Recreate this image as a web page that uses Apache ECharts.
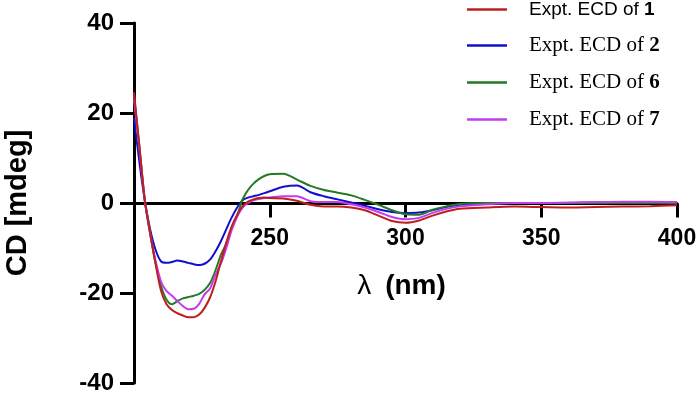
<!DOCTYPE html>
<html>
<head>
<meta charset="utf-8">
<script src="https://cdn.jsdelivr.net/npm/echarts@6/dist/echarts.min.js"></script>
<style>
  html, body { margin: 0; padding: 0; background: #fff; }
  #cdchart { width: 700px; height: 396px; }
</style>
</head>
<body>
<div id="cdchart"></div>
<script>
// wavelengths (nm)
var wavelength = [200, 202, 204, 206, 208, 210, 212, 214, 216, 218, 220, 222, 224, 226, 228, 230,
  232, 234, 236, 238, 240, 242, 244, 246, 248, 250, 255, 260, 265, 270, 275, 280, 285, 290, 295,
  300, 305, 310, 315, 320, 330, 340, 350, 360, 370, 380, 390, 400];

// CD values (mdeg)
var cd_1 = [24.6, 12.5, 0.5, -6.8, -13.7, -19.6, -22.5, -23.8, -24.5, -25.0, -25.4, -25.4, -24.8, -23.3, -21.0, -17.5,
  -13.0, -8.8, -5.2, -2.6, -0.7, 0.3, 0.8, 1.1, 1.2, 1.1, 1.0, 0.5, -0.4, -0.75, -0.75, -1.0, -1.6, -2.8, -4.0,
  -4.4, -3.9, -2.8, -1.9, -1.3, -1.0, -0.8, -0.9, -1.0, -0.9, -0.8, -0.7, -0.5];
var cd_2 = [18.9, 9.0, 0.5, -6.0, -10.5, -13.0, -13.3, -13.1, -12.8, -13.0, -13.3, -13.6, -13.8, -13.5, -12.6, -10.8,
  -8.5, -5.8, -3.2, -1.0, 0.6, 1.2, 1.5, 1.8, 2.2, 2.6, 3.6, 3.9, 2.4, 1.5, 0.8, 0.1, -0.6, -1.4, -2.0,
  -2.2, -2.1, -1.6, -0.9, -0.4, -0.2, 0, 0, 0, 0.1, 0.1, 0.1, 0.1];
var cd_6 = [24.0, 12.5, 0.5, -7.0, -13.5, -18.5, -21.5, -22.5, -21.8, -21.2, -20.9, -20.6, -20.2, -19.3, -17.8, -15.0,
  -11.5, -9.0, -5.5, -2.8, 0.8, 2.9, 4.3, 5.3, 6.0, 6.4, 6.5, 5.2, 3.8, 2.9, 2.3, 1.7, 0.7, -0.4, -1.6,
  -2.5, -2.6, -1.5, -0.75, -0.2, 0, 0, 0, 0, 0, 0, 0, 0];
var cd_7 = [23.0, 12.0, 0.5, -7.0, -13.0, -17.5, -19.6, -20.6, -21.8, -22.9, -23.6, -23.5, -22.4, -20.3, -19.0, -16.0,
  -13.5, -10.0, -6.0, -3.0, -1.0, 0, 0.6, 0.9, 1.1, 1.2, 1.5, 1.5, 0.4, 0.2, 0.2, -0.3, -1.0, -2.0, -3.1,
  -3.6, -3.3, -2.2, -1.3, -0.75, -0.3, 0, 0, 0.1, 0.2, 0.3, 0.3, 0.2];

var names = ['Expt. ECD of 1', 'Expt. ECD of 2', 'Expt. ECD of 6', 'Expt. ECD of 7'];
var colors = ['#bf1e1e', '#1010cc', '#237a23', '#c23cf0'];
var yTicks = [-40, -20, 0, 20, 40];

function pairs(ys) {
  return wavelength.map(function (x, i) { return [x, ys[i]]; });
}

function lineSeries(idx, ys) {
  return {
    name: names[idx],
    type: 'line',
    data: pairs(ys),
    smooth: 0.3,
    showSymbol: false,
    symbol: 'none',
    color: colors[idx],
    lineStyle: { width: 2, color: colors[idx] }
  };
}

var myChart = echarts.init(document.getElementById('cdchart'));

// grid 0 holds the data, grid 1 is the upper half only so its bottom axis sits on y = 0
var option = {
  animation: false,
  backgroundColor: '#ffffff',
  grid: [
    { left: 134, right: 23, top: 23, bottom: 13, containLabel: false, outerBoundsMode: 'none' },
    { left: 134, right: 23, top: 23, bottom: 192.5, containLabel: false, outerBoundsMode: 'none' }
  ],
  legend: {
    orient: 'vertical',
    left: 467,
    top: 0,
    padding: 0,
    icon: 'rect',
    itemWidth: 40,
    itemHeight: 2.5,
    itemGap: 16,
    data: names,
    formatter: function (name) {
      var n = name.slice(-1);
      if (n === '1') return '{s|Expt. ECD of }{sb|1}';
      return '{t|Expt. ECD of }{tb|' + n + '}';
    },
    textStyle: {
      rich: {
        s: { fontFamily: 'Liberation Sans, Arial', fontSize: 19, color: '#000', padding: [0, 0, 0, 17] },
        sb: { fontFamily: 'Liberation Sans, Arial', fontSize: 19, fontWeight: 'bold', color: '#000' },
        t: { fontFamily: 'Liberation Serif, Times New Roman', fontSize: 21, color: '#000', padding: [0, 0, 0, 17] },
        tb: { fontFamily: 'Liberation Serif, Times New Roman', fontSize: 21, fontWeight: 'bold', color: '#000' }
      }
    }
  },
  xAxis: [
    {
      gridIndex: 0,
      type: 'value',
      min: 200,
      max: 400,
      show: false
    },
    {
      gridIndex: 1,
      type: 'value',
      min: 200,
      max: 400,
      interval: 50,
      position: 'bottom',
      name: '{l|λ}{b|(nm)}',
      nameLocation: 'middle',
      nameGap: 69,
      nameTextStyle: {
        rich: {
          l: { fontFamily: 'Liberation Sans, Arial', fontSize: 28, color: '#000', padding: [0, 14, 0, 0] },
          b: { fontFamily: 'Liberation Sans, Arial', fontSize: 28, fontWeight: 'bold', color: '#000', padding: [0, 8, 0, 0] }
        }
      },
      axisLine: { onZero: false, lineStyle: { color: '#000', width: 3 } },
      axisTick: { length: 14, lineStyle: { color: '#000', width: 3 } },
      axisLabel: {
        showMinLabel: false,
        margin: 24,
        color: '#000',
        fontFamily: 'Liberation Sans, Arial',
        fontWeight: 'bold',
        fontSize: 23
      },
      splitLine: { show: false }
    }
  ],
  yAxis: [
    {
      gridIndex: 0,
      type: 'value',
      min: yTicks[0],
      max: yTicks[yTicks.length - 1],
      interval: 20,
      name: 'CD [mdeg]',
      nameLocation: 'middle',
      nameRotate: 90,
      nameGap: 102,
      nameTextStyle: {
        color: '#000',
        fontFamily: 'Liberation Sans, Arial',
        fontWeight: 'bold',
        fontSize: 29
      },
      axisLine: { show: true, onZero: false, lineStyle: { color: '#000', width: 3 } },
      axisTick: { show: true, length: 14, lineStyle: { color: '#000', width: 3 } },
      axisLabel: {
        margin: 20,
        color: '#000',
        fontFamily: 'Liberation Sans, Arial',
        fontWeight: 'bold',
        fontSize: 24
      },
      splitLine: { show: false }
    },
    {
      gridIndex: 1,
      type: 'value',
      min: 0,
      max: 40,
      show: false
    }
  ],
  series: [
    lineSeries(1, cd_2),
    lineSeries(2, cd_6),
    lineSeries(3, cd_7),
    lineSeries(0, cd_1)
  ]
};

myChart.setOption(option);
window.addEventListener('resize', function () {
  myChart.resize();
});
</script>
</body>
</html>
